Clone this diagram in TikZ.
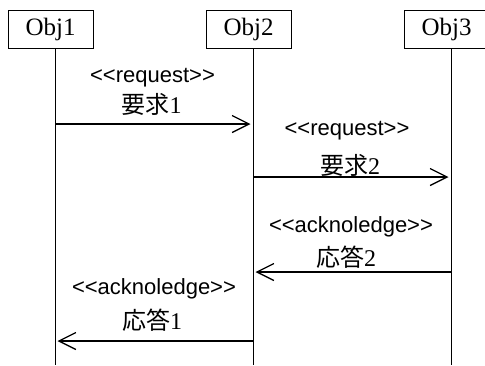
\documentclass[tikz,border=0pt]{standalone}
\usepackage{fontspec}
\setmainfont{Liberation Serif}
\newfontfamily\jpfont{Noto Sans CJK JP}
\newfontfamily\arfont{Liberation Sans}
\usetikzlibrary{arrows.meta}
\newcommand{\LL}{<\kern0pt<}
\newcommand{\GG}{>\kern0pt>}
\begin{document}
\begin{tikzpicture}[x=1pt,y=-1pt,
  objbox/.style={draw,line width=1pt,minimum width=85pt,minimum height=38pt,inner sep=0pt,font=\fontsize{25}{28}\selectfont},
  lifeline/.style={line width=1pt},
  msg/.style={line width=1.3pt,shorten >=2.5pt,-{Straight Barb[length=17pt,width=17pt,line width=1.3pt]}},
  stereo/.style={inner sep=0pt,font=\arfont\fontsize{22}{24}\selectfont},
  jlabel/.style={inner sep=0pt,font=\fontsize{24}{26}\selectfont}]
\useasboundingbox (0,0) rectangle (485,365);
\node[objbox] (o1) at (50.5,29) {Obj1};
\node[objbox] (o2) at (248.5,29) {Obj2};
\node[objbox] (o3) at (446.5,29) {Obj3};
\coordinate (l1t) at (55,48);  \coordinate (l1b) at (55,365);
\coordinate (l2t) at (253,48); \coordinate (l2b) at (253,365);
\coordinate (l3t) at (451,48); \coordinate (l3b) at (451,365);
\draw[lifeline] (l1t) -- (l1b);
\draw[lifeline] (l2t) -- (l2b);
\draw[lifeline] (l3t) -- (l3b);
\coordinate (m1s) at (55,124);  \coordinate (m1e) at (253,124);
\coordinate (m2s) at (253,177); \coordinate (m2e) at (451,177);
\coordinate (m3s) at (451,272); \coordinate (m3e) at (253,272);
\coordinate (m4s) at (253,341); \coordinate (m4e) at (55,341);
\draw[msg] (m1s) -- (m1e);
\draw[msg] (m2s) -- (m2e);
\draw[msg] (m3s) -- (m3e);
\draw[msg] (m4s) -- (m4e);
\node[stereo] (s1) at (152.5,78) {\LL request\GG};
\node[jlabel] (j1) at (151.5,104) {{\jpfont 要求}1};
\node[stereo] (s2) at (347,131) {\LL request\GG};
\node[jlabel] (j2) at (350,165) {{\jpfont 要求}2};
\node[stereo] (s3) at (351,227) {\LL acknoledge\GG};
\node[jlabel] (j3) at (346,257) {{\jpfont 応答}2};
\node[stereo] (s4) at (154,289) {\LL acknoledge\GG};
\node[jlabel] (j4) at (152,320) {{\jpfont 応答}1};
\end{tikzpicture}
\end{document}
